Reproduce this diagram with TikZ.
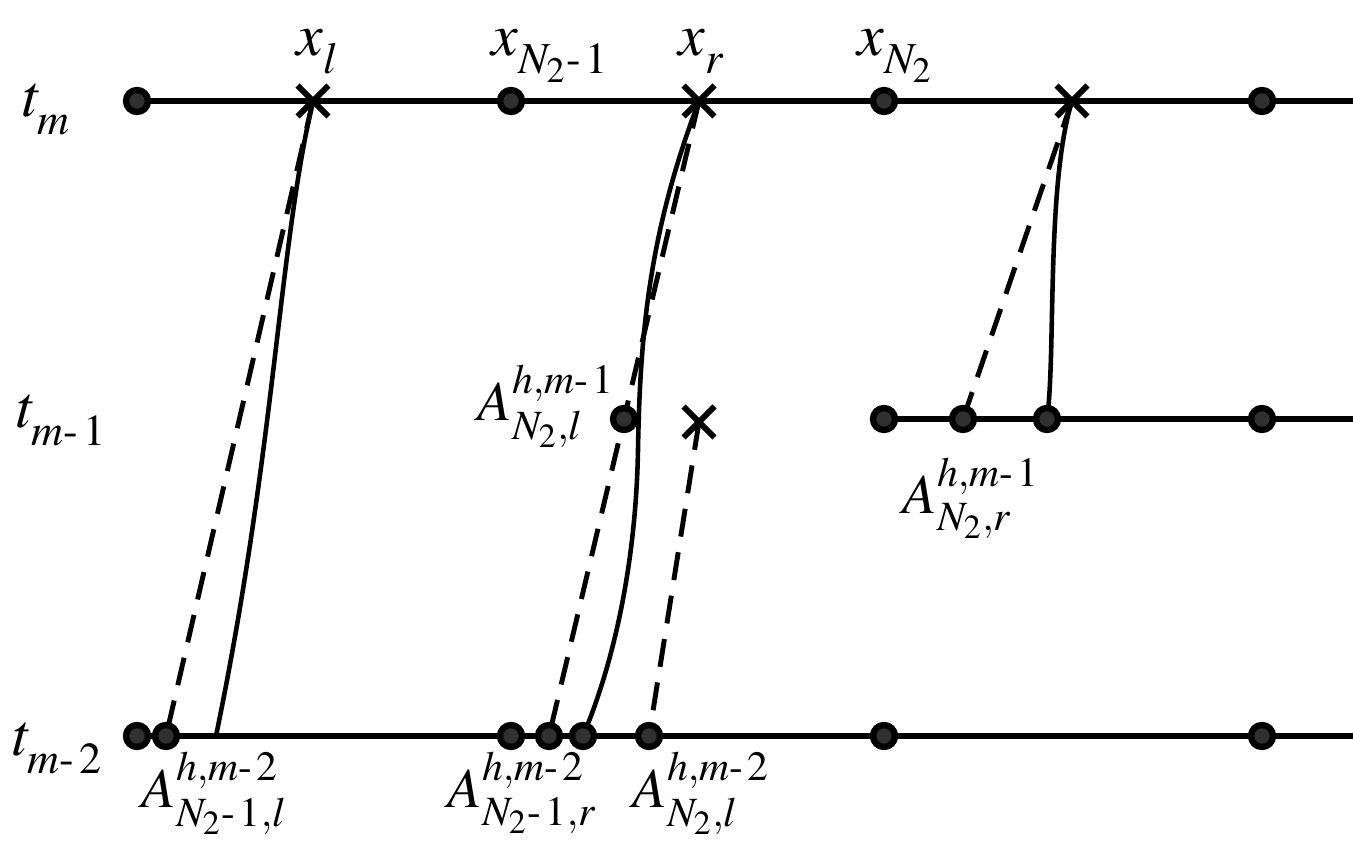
\documentclass[tikz,border=0pt]{standalone}
\usepackage{mathptmx}
\usetikzlibrary{shapes.misc,backgrounds}
\definecolor{dotgray}{RGB}{48,48,48}
\newcommand\hy{\mathchar"702D\mkern2mu}
\newcommand\lo[1]{_{\raisebox{-2.5pt}{$\scriptstyle #1$}}}
\begin{document}
\begin{tikzpicture}[x=0.01cm, y=-0.01cm,
    pt/.style={circle, draw=black, fill=dotgray, line width=1.8pt, inner sep=0pt, minimum size=0.22cm},
    crs/.style={cross out, draw=black, line width=1.7pt, inner sep=0pt, minimum size=0.25cm},
    lbl/.style={inner sep=0pt, anchor=base west, font=\fontsize{17}{20}\selectfont},
    albl/.style={inner sep=0pt, anchor=base west, font=\fontsize{16}{19}\selectfont},
    axis/.style={line width=1.5pt},
    sol/.style={line width=1.3pt},
    dsh/.style={line width=1.4pt, dash pattern=on 8pt off 4.5pt}]
    \useasboundingbox (0,0) rectangle (1353,849);

    % Time level t_m
    \node[pt] (tm1) at (137,101) {};
    \node[crs] (xl) at (313,101) {};
    \node[pt] (tm2) at (511,101) {};
    \node[crs] (xr) at (699,101) {};
    \node[pt] (tm3) at (884,101) {};
    \node[crs] (xs) at (1072,101) {};
    \node[pt] (tm4) at (1262,101) {};
    \coordinate (tmend) at (1353,101);

    % Time level t_{m-1}
    \node[pt] (ta1) at (884,419) {};
    \node[pt] (ta2) at (963,419) {};
    \node[pt] (ta3) at (1047,419) {};
    \node[pt] (ta4) at (1262,419) {};
    \coordinate (taend) at (1353,419);
    \node[pt] (al) at (624,419) {};
    \node[crs] (ax) at (699,422) {};

    % Time level t_{m-2}
    \node[pt] (tb1) at (137,736) {};
    \node[pt] (tb2) at (166,736) {};
    \node[pt] (tb3) at (511,736) {};
    \node[pt] (tb4) at (549,736) {};
    \node[pt] (tb5) at (583,736) {};
    \node[pt] (tb6) at (649,736) {};
    \node[pt] (tb7) at (884,736) {};
    \node[pt] (tb8) at (1262,736) {};
    \coordinate (tbend) at (1353,736);
    \coordinate (tbfoot) at (216,736);

    \begin{scope}[on background layer]
        % horizontal time lines
        \draw[axis] (tm1.center) -- (tmend);
        \draw[axis] (ta1.center) -- (taend);
        \draw[axis] (tb1.center) -- (tbend);

        % characteristics (solid)
        \draw[sol] (xl.center) .. controls (279,245) and (275,450) .. (tbfoot);
        \draw[sol] (xr.center) .. controls (650,230) and (640,330) .. (638,450)
                   .. controls (636,560) and (615,660) .. (tb5.center);
        \draw[sol] (xs.center) .. controls (1046,185) and (1056,355) .. (ta3.center);

        % straight approximations (dashed)
        \draw[dsh] (xl.center) -- (tb2.center);
        \draw[dsh] (xr.center) -- (al.center) -- (tb4.center);
        \draw[dsh] (ax.center) -- (tb6.center);
        \draw[dsh] (xs.center) -- (ta2.center);
    \end{scope}

    % labels
    \node[lbl] at (22,117) {$t\lo{m}$};
    \node[lbl] at (16,428) {$t\lo{m\hy1}$};
    \node[lbl] at (12,756) {$t\lo{m\hy2}$};
    \node[lbl] at (296,56) {$x\lo{l}$};
    \node[lbl] at (491,56) {$x\lo{N_2\hy1}$};
    \node[lbl] at (678,56) {$x\lo{r}$};
    \node[lbl] at (857,56) {$x\lo{N_2}$};
    \node[albl] at (477,421) {$A^{h,m\hy1}_{N_2,l}$};
    \node[albl] at (902,514) {$A^{h,m\hy1}_{N_2,r}$};
    \node[albl] at (141,808) {$A^{h,m\hy2}_{N_2\hy1,l}$};
    \node[albl] at (447,808) {$A^{h,m\hy2}_{N_2\hy1,r}$};
    \node[albl] at (632,808) {$A^{h,m\hy2}_{N_2,l}$};
\end{tikzpicture}
\end{document}
